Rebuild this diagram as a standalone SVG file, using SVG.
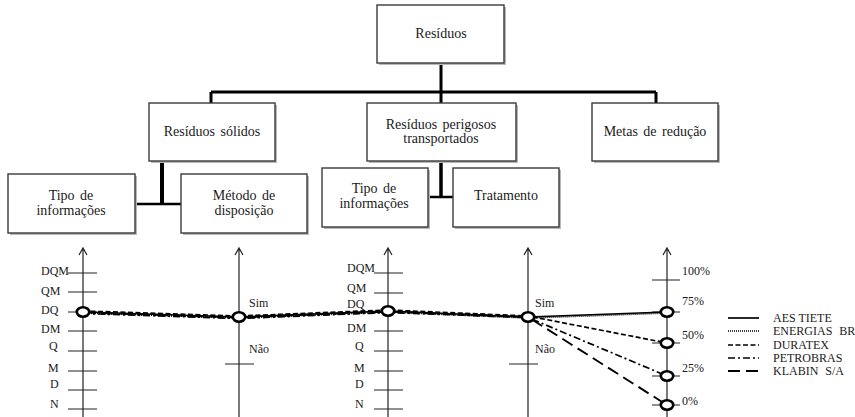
<svg xmlns="http://www.w3.org/2000/svg" width="855" height="417" viewBox="0 0 855 417">
<defs>
<style>
text{font-family:"Liberation Serif","Times New Roman",serif;fill:#1a1a1a}
.box{fill:#fff;stroke:#3a3a3a;stroke-width:1.4}
.shadow{fill:#b8b8b8}
.bt{font-size:14px;text-anchor:middle;word-spacing:2px}
.conn{stroke:#000;stroke-width:3;fill:none}
.axis{stroke:#222;stroke-width:1.2;fill:none}
.tick{stroke:#222;stroke-width:1.1}
.lbl{font-size:12px}
.s{fill:none;stroke:#000;stroke-width:1.7}
.ene{stroke-dasharray:1 1}
.dur{stroke-dasharray:5 2.5}
.pet{stroke-dasharray:7 3 2 3}
.kla{stroke-dasharray:12 6;stroke-width:1.9}
.pt{fill:#fff;stroke:#000;stroke-width:2.6}
</style>
</defs>

<g id="connectors">
<path class="conn" d="M441 63V92M211 92H656M211 92V103M441 92V103M656 92V103"/>
<path class="conn" d="M162 161V204" style="stroke-width:4"/>
<path class="conn" d="M135 204H181" style="stroke-width:2.5"/>
<path class="conn" d="M441 161V197" style="stroke-width:3.5"/>
<path class="conn" d="M428 197H453" style="stroke-width:2.5"/>
</g>

<g id="n-residuos"><rect class="shadow" x="379" y="7" width="127" height="58"/><rect class="box" x="377" y="5" width="127" height="58"/><text class="bt" x="441" y="38">Resíduos</text></g>
<g id="n-solidos"><rect class="shadow" x="151" y="105" width="126" height="58"/><rect class="box" x="149" y="103" width="126" height="58"/><text class="bt" x="212" y="136">Resíduos  sólidos</text></g>
<g id="n-perigosos"><rect class="shadow" x="369" y="105" width="149" height="58"/><rect class="box" x="367" y="103" width="149" height="58"/><text class="bt" x="441" y="129">Resíduos  perigosos</text><text class="bt" x="441" y="143">transportados</text></g>
<g id="n-metas"><rect class="shadow" x="594" y="105" width="126" height="58"/><rect class="box" x="592" y="103" width="126" height="58"/><text class="bt" x="655" y="136">Metas  de redução</text></g>
<g id="n-tipo1"><rect class="shadow" x="10" y="176" width="127" height="59"/><rect class="box" x="8" y="174" width="127" height="59"/><text class="bt" x="71" y="200">Tipo  de</text><text class="bt" x="71" y="215">informações</text></g>
<g id="n-metodo"><rect class="shadow" x="183" y="176" width="126" height="59"/><rect class="box" x="181" y="174" width="126" height="59"/><text class="bt" x="244" y="200">Método de</text><text class="bt" x="244" y="215">disposição</text></g>
<g id="n-tipo2"><rect class="shadow" x="324" y="170" width="106" height="59"/><rect class="box" x="322" y="168" width="106" height="59"/><text class="bt" x="374" y="193">Tipo  de</text><text class="bt" x="374" y="208">informações</text></g>
<g id="n-tratamento"><rect class="shadow" x="455" y="170" width="106" height="59"/><rect class="box" x="453" y="168" width="106" height="59"/><text class="bt" x="506" y="200">Tratamento</text></g>

<g id="chart">
<path class="axis" d="M83 417V248M79 255L83 248L87 255"/>
<path class="axis" d="M239 417V248M235 255L239 248L243 255"/>
<path class="axis" d="M388 417V248M384 255L388 248L392 255"/>
<path class="axis" d="M528 417V248M524 255L528 248L532 255"/>
<path class="axis" d="M667 417V248M663 255L667 248L671 255"/>
<path class="tick" d="M68 273H97M68 292H97M68 312H97M68 331H97M68 351H97M68 371H97M68 390H97M68 409H97"/>
<path class="tick" d="M374 273H403M374 293H403M374 312H403M374 331H403M374 351H403M374 371H403M374 390H403M374 409H403"/>
<path class="tick" d="M225 364H254M509 364H538"/>
<path class="tick" d="M652 280H680M652 312H680M652 343H680M652 376H680M652 405H680"/>
<g class="lbl">
<text x="41" y="275">DQM</text><text x="41" y="295">QM</text><text x="41" y="314">DQ</text><text x="41" y="333">DM</text><text x="49" y="350">Q</text><text x="48" y="372">M</text><text x="50" y="388">D</text><text x="50" y="408">N</text>
<text x="347" y="272">DQM</text><text x="347" y="292">QM</text><text x="347" y="308">DQ</text><text x="347" y="332">DM</text><text x="355" y="350">Q</text><text x="354" y="372">M</text><text x="355" y="388">D</text><text x="355" y="408">N</text>
<text x="249" y="307">Sim</text><text x="249" y="353">Não</text>
<text x="535" y="307">Sim</text><text x="535" y="353">Não</text>
<text x="682" y="275">100%</text><text x="682" y="305">75%</text><text x="682" y="339">50%</text><text x="682" y="372">25%</text><text x="682" y="405">0%</text>
</g>
<polyline class="s aes" points="83,312 239,317 388,311 528,317 667,312"/>
<polyline class="s ene" points="83,313 239,318 388,312 528,318 667,313"/>
<polyline class="s dur" points="83,311 239,316 388,310 528,316 667,343"/>
<polyline class="s pet" points="83,313.5 239,318.5 388,312.5 528,317.5 667,376"/>
<polyline class="s kla" points="83,312.5 239,317.5 388,311.5 528,317 667,405"/>
<ellipse class="pt" cx="83" cy="312" rx="6.2" ry="4.8"/>
<ellipse class="pt" cx="239" cy="317" rx="6.2" ry="4.8"/>
<ellipse class="pt" cx="388" cy="311" rx="6.2" ry="4.8"/>
<ellipse class="pt" cx="528" cy="317" rx="6.2" ry="4.8"/>
<ellipse class="pt" cx="667" cy="312" rx="6.2" ry="4.8"/>
<ellipse class="pt" cx="667" cy="343" rx="6.2" ry="4.8"/>
<ellipse class="pt" cx="667" cy="376" rx="6.2" ry="4.8"/>
<ellipse class="pt" cx="667" cy="405" rx="6.2" ry="4.8"/>
</g>

<g id="legend">
<line class="s aes" x1="728" y1="318" x2="759" y2="318"/>
<line class="s ene" x1="728" y1="331" x2="759" y2="331"/>
<line class="s dur" x1="728" y1="345" x2="759" y2="345"/>
<line class="s pet" x1="728" y1="358" x2="759" y2="358"/>
<line class="s kla" x1="728" y1="371" x2="759" y2="371"/>
<g class="lbl">
<text x="773" y="322">AES TIETE</text>
<text x="773" y="335" word-spacing="4">ENERGIAS BR</text>
<text x="773" y="349">DURATEX</text>
<text x="773" y="362">PETROBRAS</text>
<text x="773" y="375" word-spacing="4">KLABIN S/A</text>
</g>
</g>
</svg>
